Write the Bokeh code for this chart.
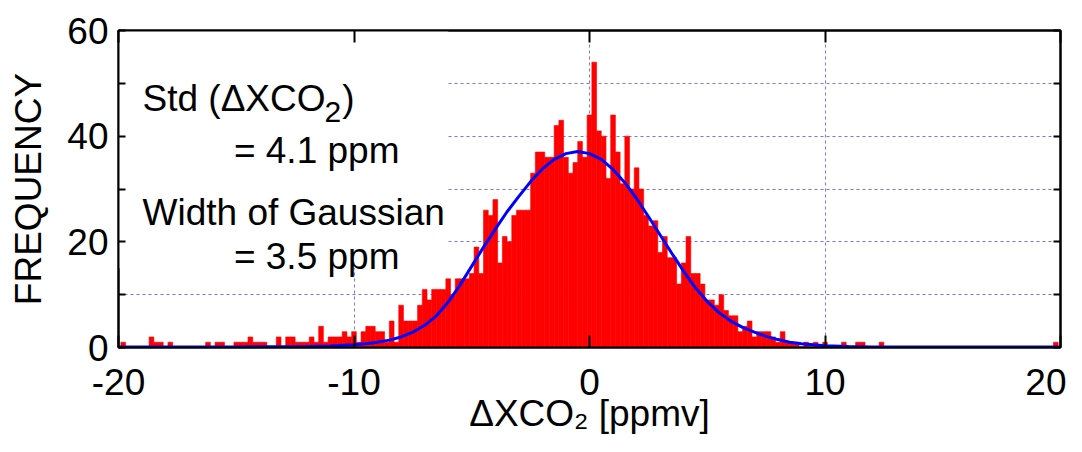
from bokeh.plotting import figure
from bokeh.models import Range1d, LinearAxis, FixedTicker, Label, BoxAnnotation
from bokeh.embed import file_html
from bokeh.resources import INLINE

FONT = "Liberation Sans"
FS = "37px"

# ---- histogram data: bin centres -20.0 ... 20.0 step 0.2 (bin width 0.2) ----
bin_start = -20.0
bin_width = 0.2
counts = (
    [0, 1, 0, 0, 0, 0, 0, 2, 1, 1]          # -20.0 .. -18.2
    + [0, 1, 0, 0, 0, 0, 0, 0, 0, 1]        # -18.0 .. -16.2
    + [0, 1, 1, 0, 0, 1, 1, 1, 2, 1]        # -16.0 .. -14.2
    + [1, 1, 0, 0, 2, 0, 2, 2, 1, 1]        # -14.0 .. -12.2
    + [1, 2, 1, 4, 1, 2, 2, 2, 3, 2]        # -12.0 .. -10.2
    + [3, 1, 3, 4, 4, 3, 3, 1, 5, 1]        # -10.0 .. -8.2
    + [8, 5, 5, 5, 8, 11, 9, 11, 11, 11]    # -8.0 .. -6.2
    + [13, 10, 13, 13, 13, 14, 19, 14, 26, 25]  # -6.0 .. -4.2
    + [28, 16, 21, 20, 25, 26, 26, 26, 33, 37]  # -4.0 .. -2.2
    + [37, 36, 36, 42, 43, 36, 33, 35, 39, 36]  # -2.0 .. -0.2
    + [44, 54, 41, 40, 32, 44, 37, 31, 40, 30]  # 0.0 .. 1.8
    + [34, 30, 25, 23, 24, 18, 21, 17, 17, 12]  # 2.0 .. 3.8
    + [16, 21, 14, 14, 12, 9, 9, 8, 10, 7]      # 4.0 .. 5.8
    + [6, 6, 3, 4, 5, 2, 3, 3, 3, 2]            # 6.0 .. 7.8
    + [1, 3, 1, 1, 1, 0, 1, 0, 1, 0]            # 8.0 .. 9.8
    + [1, 0, 0, 0, 1, 0, 0, 1, 1, 0]            # 10.0 .. 11.8
    + [0, 0, 1, 0, 0, 0, 0, 0, 0, 0]            # 12.0 .. 13.8
    + [0, 0, 0, 0, 0, 0, 0, 0, 0, 0]            # 14.0 .. 15.8
    + [0, 0, 0, 0, 0, 0, 0, 0, 0, 0]            # 16.0 .. 17.8
    + [0, 0, 0, 0, 0, 0, 0, 0, 0, 1]            # 18.0 .. 19.8
    + [0]                                       # 20.0
)

# ---- fitted Gaussian curve ----
gauss_x = [-20, -15, -12, -11, -10, -9.5, -9, -8.5, -8, -7.5, -7, -6.5, -6, -5.5,
           -5, -4.5, -4, -3.5, -3, -2.5, -2, -1.5, -1, -0.5, 0, 0.5, 1, 1.5, 2,
           2.5, 3, 3.5, 4, 4.5, 5, 5.5, 6, 6.5, 7, 7.5, 8, 8.5, 9, 9.5, 10, 11,
           12, 15, 20]
gauss_y = [0.1, 0.1, 0.2, 0.3, 0.5, 0.7, 1.0, 1.4, 2.0, 2.9, 4.2, 6.0, 8.6, 11.8,
           15.4, 19.0, 22.4, 25.7, 28.6, 31.4, 33.8, 35.6, 36.7, 37.1, 36.7,
           35.6, 33.7, 31.2, 28.2, 24.8, 21.3, 17.8, 14.4, 11.3, 8.7, 6.6, 5.0,
           3.8, 2.9, 2.1, 1.5, 1.0, 0.7, 0.5, 0.35, 0.2, 0.1, 0.1, 0.1]

x_ticks = [-20, -10, 0, 10, 20]
x_tick_labels = {-20: "-20", -10: "-10", 0: "0", 10: "10", 20: "20"}
y_ticks = [0, 20, 40, 60]
y_minor = [10, 30, 50]
grid_x = [-10, 0, 10]
grid_y = [10, 20, 30, 40, 50]

lefts = [bin_start + i * bin_width - bin_width / 2 for i in range(len(counts))]
rights = [l + bin_width for l in lefts]

p = figure(width=1066, height=436, x_range=Range1d(-20, 20), y_range=Range1d(0, 60),
           output_backend="svg", toolbar_location=None,
           min_border_left=118, min_border_right=6, min_border_top=30, min_border_bottom=86)
p.outline_line_color = "black"
p.outline_line_width = 2
p.background_fill_color = "white"
p.border_fill_color = "white"

# grids
p.xgrid.ticker = FixedTicker(ticks=grid_x)
p.ygrid.ticker = FixedTicker(ticks=grid_y)
for g in (p.xgrid, p.ygrid):
    g.grid_line_color = "#7373ff"
    g.grid_line_dash = "3 3"
    g.grid_line_width = 1

# white background behind the annotation text
box = BoxAnnotation(left=-20, right=-6.0, bottom=15, top=60, fill_color="white",
                    fill_alpha=1.0, line_color=None, level="underlay")
p.add_layout(box)

# histogram
p.quad(left=lefts, right=rights, bottom=0, top=counts, fill_color="#ff0000",
       line_color="#ff0000", line_width=0.6)
# gaussian
p.line(gauss_x, gauss_y, line_color="#0000ff", line_width=3)


def style_axis(ax, ticker, tick_len, minor=False, labels=True):
    ax.ticker = ticker
    ax.axis_line_color = "black"
    ax.axis_line_width = 2
    ax.major_tick_in = tick_len
    ax.major_tick_out = 0
    ax.major_tick_line_color = "black"
    ax.major_tick_line_width = 2
    ax.minor_tick_in = tick_len if minor else 0
    ax.minor_tick_out = 0
    ax.minor_tick_line_color = "black" if minor else None
    ax.minor_tick_line_width = 2
    ax.major_label_text_font = FONT
    ax.major_label_text_color = "black"
    if labels:
        ax.major_label_text_font_size = FS
    else:
        ax.major_label_overrides = {t: "" for t in ticker.ticks}
        ax.major_label_text_font_size = "1px"
        ax.major_label_standoff = 0


style_axis(p.xaxis[0], FixedTicker(ticks=x_ticks), 12)
style_axis(p.yaxis[0], FixedTicker(ticks=y_ticks, minor_ticks=y_minor), 7, minor=True)
p.xaxis.major_label_overrides = x_tick_labels
p.xaxis.major_label_standoff = 21
p.yaxis.major_label_standoff = 10

p.xaxis.axis_label = "ΔXCO₂ [ppmv]"
p.yaxis.axis_label = "FREQUENCY"
for ax in (p.xaxis[0], p.yaxis[0]):
    ax.axis_label_text_font = FONT
    ax.axis_label_text_font_size = FS
    ax.axis_label_text_font_style = "normal"
    ax.axis_label_text_color = "black"
p.xaxis.axis_label_standoff = -5
p.yaxis.axis_label_standoff = 15

top_ax = LinearAxis()
style_axis(top_ax, FixedTicker(ticks=x_ticks), 12, labels=False)
p.add_layout(top_ax, "above")
right_ax = LinearAxis()
style_axis(right_ax, FixedTicker(ticks=y_ticks, minor_ticks=y_minor), 7, minor=True, labels=False)
p.add_layout(right_ax, "right")


# annotation text
def add_text(x, y, t, size=FS):
    p.add_layout(Label(x=x, y=y, text=t, text_font=FONT, text_font_size=size,
                       text_color="black", text_baseline="alphabetic", text_align="left"))


add_text(-18.98, 47.06, "Std (ΔXCO")
add_text(-11.25, 44.6, "2", size="30px")
add_text(-10.5, 47.06, ")")
add_text(-15.1, 37.3, "= 4.1 ppm")
add_text(-18.98, 25.5, "Width of Gaussian")
add_text(-15.1, 17.25, "= 3.5 ppm")

open("out.html", "w").write(file_html(p, INLINE))
